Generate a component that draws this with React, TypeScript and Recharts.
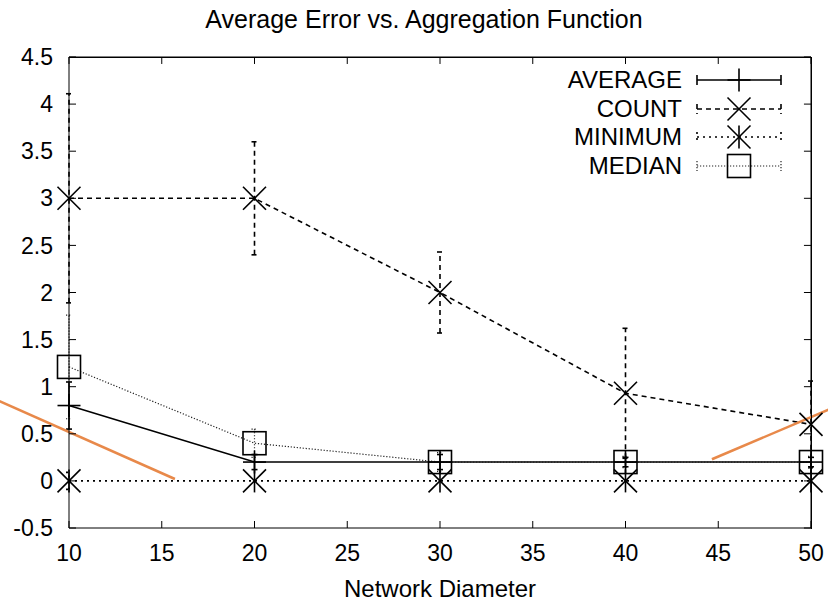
import { LineChart, Line, XAxis, YAxis, ErrorBar, ReferenceLine, CartesianGrid, Legend } from "recharts";

// network diameter (x) and per-aggregation average error
const diameters = [10, 20, 30, 40, 50];
const averageVals = [0.8, 0.2, 0.2, 0.2, 0.2];
const averageErr = [0.25, 0.08, 0.08, 0.05, 0.05];
const countVals = [3, 3, 2, 0.93, 0.6];
const countErr = [1.11, 0.6, 0.43, 0.69, 0.46];
const minimumVals = [0, 0, 0, 0, 0];
const minimumErr = [0.09, 0, 0, 0, 0];
const medianVals = [1.21, 0.4, 0.2, 0.2, 0.2];
const medianErr = [0.55, 0.15, 0.1, 0.06, 0.06];

const xTicks = [10, 15, 20, 25, 30, 35, 40, 45, 50];
const yTicks = [-0.5, 0, 0.5, 1, 1.5, 2, 2.5, 3, 3.5, 4, 4.5];

// orange annotation strokes (data coords)
const orangeLeft = [{ x: 6.2, y: 0.85 }, { x: 15.71, y: 0.02 }];
const orangeRight = [{ x: 44.66, y: 0.23 }, { x: 51, y: 0.76 }];

const X_DOMAIN: [number, number] = [10, 50];
const Y_DOMAIN: [number, number] = [-0.5, 4.5];
// inward tick length on the top/right border, in data units (~7px)
const TICK_Y = 0.074;
const TICK_X = 0.38;

const data = diameters.map((d, i) => ({
  x: d,
  average: averageVals[i],
  averageErr: averageErr[i],
  count: countVals[i],
  countErr: countErr[i],
  minimum: minimumVals[i],
  minimumErr: minimumErr[i],
  median: medianVals[i],
  medianErr: medianErr[i],
}));

const FONT = "'Liberation Sans', Arial, Helvetica, sans-serif";

type Kind = "plus" | "cross" | "star" | "square";

const SERIES: { key: string; name: string; kind: Kind; dash?: string; width: number; color: string }[] = [
  { key: "average", name: "AVERAGE", kind: "plus", width: 1.6, color: "#000" },
  { key: "count", name: "COUNT", kind: "cross", dash: "5 4", width: 1.6, color: "#000" },
  { key: "minimum", name: "MINIMUM", kind: "star", dash: "2 4", width: 1.6, color: "#000" },
  { key: "median", name: "MEDIAN", kind: "square", dash: "1.2 1.8", width: 1.2, color: "#222" },
];

const Marker = ({ cx, cy, kind }: { cx: number; cy: number; kind: Kind }) => {
  const r = 11.5;
  const s = { stroke: "#000", strokeWidth: 1.6, fill: "none" };
  if (kind === "plus")
    return (
      <g>
        <line x1={cx - r} y1={cy} x2={cx + r} y2={cy} {...s} />
        <line x1={cx} y1={cy - r} x2={cx} y2={cy + r} {...s} />
      </g>
    );
  if (kind === "cross")
    return (
      <g>
        <line x1={cx - r} y1={cy - r} x2={cx + r} y2={cy + r} {...s} />
        <line x1={cx - r} y1={cy + r} x2={cx + r} y2={cy - r} {...s} />
      </g>
    );
  if (kind === "star")
    return (
      <g>
        <line x1={cx - r} y1={cy - r} x2={cx + r} y2={cy + r} {...s} />
        <line x1={cx - r} y1={cy + r} x2={cx + r} y2={cy - r} {...s} />
        <line x1={cx} y1={cy - r} x2={cx} y2={cy + r} {...s} />
      </g>
    );
  return <rect x={cx - r} y={cy - r} width={r * 2} height={r * 2} {...s} />;
};

const LegendContent = () => (
  <div style={{ fontFamily: FONT, fontSize: 24, color: "#000" }}>
    {SERIES.map((s) => (
      <div key={s.key} style={{ display: "flex", alignItems: "center", height: 28.5 }}>
        <span style={{ width: 142, textAlign: "right", lineHeight: "28px", whiteSpace: "nowrap" }}>{s.name}</span>
        <svg width={100} height={28} style={{ marginLeft: 14, overflow: "visible" }}>
          <line x1={1} y1={14} x2={85} y2={14} stroke={s.color} strokeWidth={s.width} strokeDasharray={s.dash} />
          <line x1={1} y1={9} x2={1} y2={19} stroke={s.color} strokeWidth={s.width} strokeDasharray={s.dash} />
          <line x1={85} y1={9} x2={85} y2={19} stroke={s.color} strokeWidth={s.width} strokeDasharray={s.dash} />
          <Marker cx={43} cy={14} kind={s.kind} />
        </svg>
      </div>
    ))}
  </div>
);

const edge = { position: "absolute" as const, background: "#000", zIndex: 5, pointerEvents: "none" as const };

export default function App() {
  return (
    <div style={{ position: "relative", width: 828, height: 602, fontFamily: FONT }}>
      <style>{`body{margin:0}`}</style>
      <div
        style={{
          position: "absolute",
          top: 5,
          left: 0,
          width: 848,
          textAlign: "center",
          fontSize: 25,
          color: "#000",
          zIndex: 1,
          whiteSpace: "nowrap",
        }}
      >
        Average Error vs. Aggregation Function
      </div>
      {/* top and right edges of the plot border */}
      <div style={{ ...edge, left: 69, top: 57, width: 743, height: 1 }} />
      <div style={{ ...edge, left: 811, top: 57, width: 1, height: 472 }} />
      <LineChart width={828} height={602} data={data} margin={{ top: 57, right: 17, left: 0, bottom: 0 }}>
        <CartesianGrid
          horizontalValues={[Y_DOMAIN[1]]}
          verticalValues={[X_DOMAIN[1]]}
          stroke="#000"
          strokeDasharray="0"
          strokeWidth={1}
        />
        <XAxis
          dataKey="x"
          type="number"
          domain={X_DOMAIN}
          ticks={xTicks}
          tickSize={-7}
          tickMargin={24}
          height={74}
          stroke="#000"
          tick={{ fill: "#000", fontSize: 23, fontFamily: FONT }}
          label={{ value: "Network Diameter", position: "insideBottom", offset: 5, fill: "#000", fontSize: 24, fontFamily: FONT }}
        />
        <YAxis
          type="number"
          domain={Y_DOMAIN}
          ticks={yTicks}
          tickSize={-7}
          tickMargin={23}
          width={69}
          stroke="#000"
          tick={{ fill: "#000", fontSize: 23, fontFamily: FONT }}
        />
        <Legend
          layout="vertical"
          align="center"
          verticalAlign="middle"
          content={<LegendContent />}
          wrapperStyle={{ position: "absolute", left: 540, top: 66, width: 260 }}
        />
        {xTicks.map((t) => (
          <ReferenceLine
            key={`tt-${t}`}
            segment={[{ x: t, y: Y_DOMAIN[1] }, { x: t, y: Y_DOMAIN[1] - TICK_Y }]}
            ifOverflow="visible"
            stroke="#000"
            strokeWidth={1}
          />
        ))}
        {yTicks.map((t) => (
          <ReferenceLine
            key={`rt-${t}`}
            segment={[{ x: X_DOMAIN[1], y: t }, { x: X_DOMAIN[1] - TICK_X, y: t }]}
            ifOverflow="visible"
            stroke="#000"
            strokeWidth={1}
          />
        ))}
        {SERIES.map((s) => (
          <Line
            key={s.key}
            dataKey={s.key}
            name={s.name}
            stroke={s.color}
            strokeWidth={s.width}
            strokeDasharray={s.dash}
            isAnimationActive={false}
            dot={(p: any) => <Marker key={`${s.key}-${p.index}`} cx={p.cx} cy={p.cy} kind={s.kind} />}
            activeDot={false}
          >
            <ErrorBar
              dataKey={`${s.key}Err`}
              direction="y"
              width={3}
              stroke={s.color}
              strokeWidth={s.width}
              strokeDasharray={s.dash}
              isAnimationActive={false}
            />
          </Line>
        ))}
        <ReferenceLine segment={orangeLeft} ifOverflow="visible" stroke="#e8894a" strokeWidth={2.5} />
        <ReferenceLine segment={orangeRight} ifOverflow="visible" stroke="#e8894a" strokeWidth={2.5} />
      </LineChart>
    </div>
  );
}
